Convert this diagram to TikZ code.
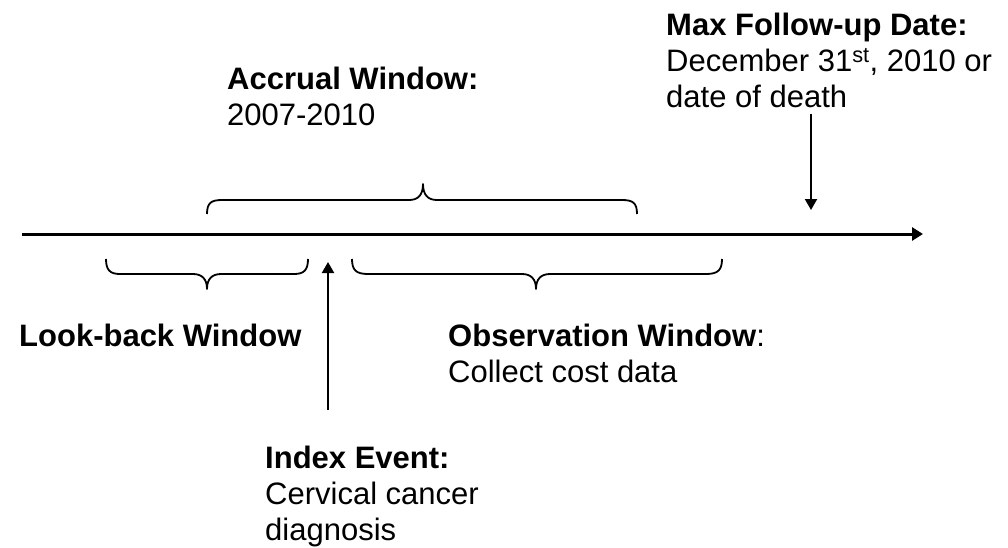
\documentclass[tikz,border=0pt]{standalone}
\usepackage{fontspec}
\setmainfont{Liberation Sans}
\usetikzlibrary{arrows.meta}
\begin{document}
\begin{tikzpicture}[x=1pt,y=-1pt,
  lbl/.style={anchor=north west,inner sep=0pt,align=left,font=\fontsize{31}{36}\selectfont},
  brace/.style={line width=1.8pt,line join=round},
  axis/.style={line width=3pt,-{Triangle[length=11pt,width=13pt]}},
  pointer/.style={line width=2pt,-{Triangle[length=11pt,width=12pt]}}]
\useasboundingbox (0,0) rectangle (1008,547);
% time axis
\coordinate (a0) at (22,234);
\coordinate (a1) at (923,234);
\draw[axis] (a0) -- (a1);
% accrual brace (above)
\draw[brace] (207,214) .. controls (207,203) and (211,200) .. (222,200) -- (409,200)
  .. controls (418,200) and (423,195) .. (423,184)
  .. controls (423,195) and (428,200) .. (437,200) -- (622,200)
  .. controls (633,200) and (637,203) .. (637,214);
% look-back brace
\draw[brace] (106,259) .. controls (106,270) and (110,274) .. (120,274) -- (193,274)
  .. controls (202,274) and (207,279) .. (207,289)
  .. controls (207,279) and (212,274) .. (221,274) -- (294,274)
  .. controls (304,274) and (308,270) .. (308,259);
% observation brace
\draw[brace] (352,259) .. controls (352,270) and (356,274) .. (368,274) -- (522,274)
  .. controls (531,274) and (536,279) .. (536,289)
  .. controls (536,279) and (541,274) .. (550,274) -- (706,274)
  .. controls (718,274) and (722,270) .. (722,259);
% labels
\node[lbl] (accrual) at (227,67) {\textbf{Accrual Window:}\\2007-2010};
\node[lbl] (maxfu) at (666,13) {\textbf{Max Follow-up Date:}\\December 31\textsuperscript{st}, 2010 or\\date of death};
\node[lbl] (lookback) at (19,324) {\textbf{Look-back Window}};
\node[lbl] (obs) at (448,324) {\textbf{Observation Window}:\\Collect cost data};
\node[lbl] (index) at (265,446) {\textbf{Index Event:}\\Cervical cancer\\diagnosis};
% pointers
\coordinate (m0) at (811,114);
\coordinate (m1) at (811,210);
\draw[pointer] (m0) -- (m1);
\coordinate (i0) at (328,410);
\coordinate (i1) at (328,262);
\draw[pointer] (i0) -- (i1);
\end{tikzpicture}
\end{document}
